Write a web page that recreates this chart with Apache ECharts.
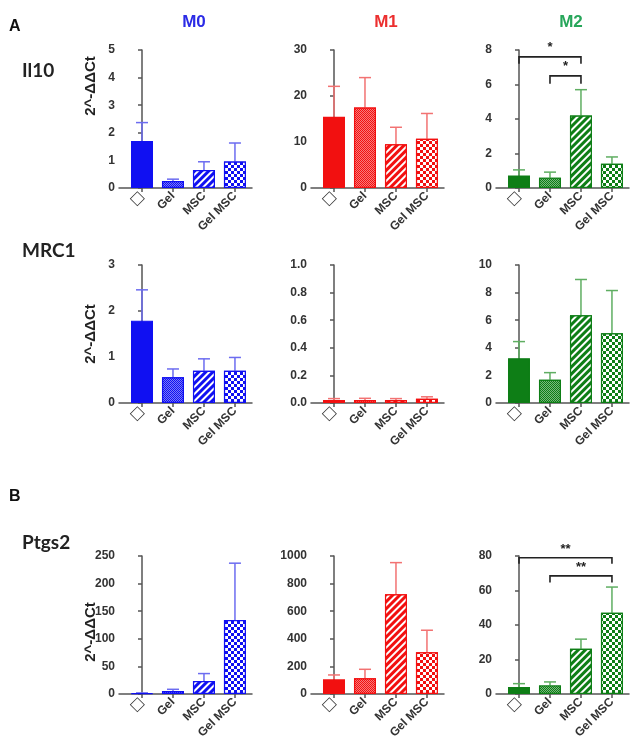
<!DOCTYPE html>
<html><head><meta charset="utf-8">
<script src="https://cdn.jsdelivr.net/npm/echarts@6/dist/echarts.min.js"></script>
<style>html,body{margin:0;padding:0;background:#fff}#c{width:642px;height:751px}</style>
</head><body><div id="c"></div>
<script>
// ---- data ----
const categories = ['□', 'Gel', 'MSC', 'Gel MSC'];
const columnTitles = ['M0', 'M1', 'M2'];
const rowNames = ['Il10', 'MRC1', 'Ptgs2'];
const yTitle = '2^-ΔΔCt';

// Il10
const il10M0 = [1.70, 0.25, 0.65, 0.96];
const il10M0Upper = [2.37, 0.32, 0.95, 1.63];
const il10M1 = [15.5, 17.5, 9.5, 10.7];
const il10M1Upper = [22.1, 24.0, 13.2, 16.2];
const il10M2 = [0.73, 0.60, 4.2, 1.40];
const il10M2Upper = [1.05, 0.92, 5.7, 1.80];
// MRC1
const mrc1M0 = [1.79, 0.56, 0.70, 0.70];
const mrc1M0Upper = [2.46, 0.74, 0.96, 0.99];
const mrc1M1 = [0.022, 0.022, 0.022, 0.030];
const mrc1M1Upper = [0.032, 0.034, 0.032, 0.045];
const mrc1M2 = [3.25, 1.69, 6.35, 5.05];
const mrc1M2Upper = [4.45, 2.20, 8.95, 8.15];
// Ptgs2
const ptgs2M0 = [1, 5.4, 23.5, 134];
const ptgs2M0Upper = [2, 8.5, 37, 237];
const ptgs2M1 = [106, 114, 722, 303];
const ptgs2M1Upper = [138, 179, 952, 462];
const ptgs2M2 = [4.1, 5.0, 26.2, 47.1];
const ptgs2M2Upper = [6.0, 7.0, 31.8, 62];

// y-axis scales [row][col]
const yMax = [[5, 30, 8], [3, 1.0, 10], [250, 1000, 80]];
const yStep = [[1, 10, 2], [1, 0.2, 2], [50, 200, 20]];

// significance brackets: [rowIndex, colIndex, fromCat, toCat, lineY, legY, starY, label]
const brackets = [
  [0, 2, 0, 2, 7.6, 7.2, 8.15, '*'],
  [0, 2, 1, 2, 6.5, 6.05, 7.05, '*'],
  [2, 2, 0, 3, 79, 75.5, 84, '**'],
  [2, 2, 1, 3, 68.5, 64.7, 73.5, '**']
];

const values = [[il10M0, il10M1, il10M2], [mrc1M0, mrc1M1, mrc1M2], [ptgs2M0, ptgs2M1, ptgs2M2]];
const uppers = [[il10M0Upper, il10M1Upper, il10M2Upper], [mrc1M0Upper, mrc1M1Upper, mrc1M2Upper], [ptgs2M0Upper, ptgs2M1Upper, ptgs2M2Upper]];

// ---- styles ----
const colColors = [
  {bar: '#1010f2', err: '#6c6cf0', title: '#2b2be6'},
  {bar: '#f21010', err: '#f27272', title: '#ec2f2f'},
  {bar: '#0e7e16', err: '#5fae62', title: '#27a65a'}
];
const axisX = [119, 311, 496];
const rowTop = [50, 265, 556];
const yTitleCenter = [86, 334, 632];
const plotW = 133, plotH = 138;
const FONT = 'Liberation Sans, Arial, sans-serif';

const decals = [
  null,
  {symbol: 'rect', symbolSize: 1, dashArrayX: [[1, 1], [0, 1, 1, 0]], dashArrayY: [1, 0], color: 'rgba(255,255,255,0.45)'},
  {symbol: 'rect', symbolSize: 1, dashArrayX: [1, 0], dashArrayY: [2, 3], rotation: -Math.PI / 4, color: '#ffffff'},
  {symbol: 'rect', symbolSize: 1, dashArrayX: [[2.5, 2.5], [0, 2.5, 2.5, 0]], dashArrayY: [2.5, 0], color: '#ffffff'}
];

const grids = [], xAxes = [], yAxes = [], series = [];
for (let r = 0; r < 3; r++) {
  for (let c = 0; c < 3; c++) {
    const idx = r * 3 + c;
    const col = colColors[c];
    grids.push({left: axisX[c], top: rowTop[r], width: plotW, height: plotH});
    xAxes.push({
      gridIndex: idx, type: 'value', min: -0.742, max: 3.55,
      splitLine: {show: false},
      axisLine: {show: true, onZero: false, lineStyle: {color: '#555', width: 1.5}},
      axisTick: {show: true, customValues: [0, 1, 2, 3], length: 4, lineStyle: {color: '#555', width: 1.5}},
      axisLabel: {show: true, customValues: [0, 1, 2, 3], rotate: 45, margin: 6,
        formatter: v => { const i = Math.round(v); return i === 0 ? '{d|' + categories[0] + '}' : categories[i]; },
        color: '#333', fontWeight: 'bold', fontSize: 12, fontFamily: FONT,
        rich: {d: {fontFamily: 'DejaVu Sans', fontSize: 14, fontWeight: 'normal', color: '#333'}}}
    });
    const step = yStep[r][c];
    yAxes.push({
      gridIndex: idx, type: 'value', min: 0, max: yMax[r][c], interval: step,
      splitLine: {show: false},
      axisLine: {show: true, lineStyle: {color: '#555', width: 1.5}},
      axisTick: {show: true, length: 4, lineStyle: {color: '#555', width: 1.5}},
      axisLabel: {color: '#333', fontWeight: 'bold', fontSize: 12, fontFamily: FONT, margin: 4,
        formatter: v => step < 1 ? v.toFixed(1) : String(v)}
    });
    const vals = values[r][c], ups = uppers[r][c];
    series.push({
      type: 'bar', xAxisIndex: idx, yAxisIndex: idx, barWidth: 22, z: 2,
      data: vals.map((v, i) => ({
        value: [i, v],
        itemStyle: {color: col.bar, borderColor: col.bar, borderWidth: 1.2, decal: decals[i] || undefined}
      }))
    });
    series.push({
      type: 'custom', xAxisIndex: idx, yAxisIndex: idx, z: 1,
      data: vals.map((v, i) => [i, v, ups[i]]),
      renderItem: (params, api) => {
        const p0 = api.coord([api.value(0), api.value(1)]);
        const p1 = api.coord([api.value(0), api.value(2)]);
        const st = {stroke: col.err, lineWidth: 1.5};
        return {type: 'group', children: [
          {type: 'line', shape: {x1: p0[0], y1: p0[1], x2: p1[0], y2: p1[1]}, style: st},
          {type: 'line', shape: {x1: p1[0] - 6, y1: p1[1], x2: p1[0] + 6, y2: p1[1]}, style: st}
        ]};
      }
    });
    const bs = brackets.filter(b => b[0] === r && b[1] === c);
    if (bs.length) {
      series.push({
        type: 'custom', xAxisIndex: idx, yAxisIndex: idx, z: 3, clip: false,
        data: bs.map(b => [b[2], b[3], b[4], b[5], b[6]]),
        renderItem: (params, api) => {
          const a = api.coord([api.value(0), api.value(2)]);
          const b = api.coord([api.value(1), api.value(2)]);
          const la = api.coord([api.value(0), api.value(3)]);
          const s = api.coord([(api.value(0) + api.value(1)) / 2, api.value(4)]);
          const st = {stroke: '#222', lineWidth: 1.6, fill: 'none'};
          return {type: 'group', children: [
            {type: 'polyline', shape: {points: [[a[0], la[1]], a, b, [b[0], la[1]]]}, style: st},
            {type: 'text', style: {text: bs[params.dataIndex][7], x: s[0], y: s[1],
              align: 'center', verticalAlign: 'middle', textAlign: 'center', textVerticalAlign: 'middle',
              font: 'bold 13px ' + FONT, fill: '#222'}}
          ]};
        }
      });
    }
  }
}

const titles = [
  {text: 'A', left: 4, top: 14, textStyle: {fontSize: 16, fontWeight: 'bold', color: '#111', fontFamily: FONT}},
  {text: 'B', left: 4, top: 484, textStyle: {fontSize: 16, fontWeight: 'bold', color: '#111', fontFamily: FONT}},
  {text: rowNames[0], left: 17, top: 56, textStyle: {fontSize: 19, fontWeight: 'bold', color: '#222', fontFamily: 'Lato, sans-serif'}},
  {text: rowNames[1], left: 17, top: 236, textStyle: {fontSize: 19, fontWeight: 'bold', color: '#222', fontFamily: 'Lato, sans-serif'}},
  {text: rowNames[2], left: 17, top: 528, textStyle: {fontSize: 19, fontWeight: 'bold', color: '#222', fontFamily: 'Lato, sans-serif'}}
];
for (let c = 0; c < 3; c++) {
  titles.push({text: columnTitles[c], left: axisX[c] + 70, top: 9, textAlign: 'center',
    textStyle: {fontSize: 17, fontWeight: 'bold', color: colColors[c].title, fontFamily: FONT}});
}
const graphics = yTitleCenter.map(cy => ({
  type: 'text', x: 91, y: cy, rotation: Math.PI / 2,
  style: {text: yTitle, align: 'center', verticalAlign: 'middle', textAlign: 'center', textVerticalAlign: 'middle',
    font: 'bold 15px ' + FONT, fill: '#222'}
}));

const chart = echarts.init(document.getElementById('c'), null, {renderer: 'canvas'});
chart.setOption({
  animation: false,
  backgroundColor: '#fff',
  title: titles,
  graphic: graphics,
  grid: grids, xAxis: xAxes, yAxis: yAxes, series: series
});
</script></body></html>
